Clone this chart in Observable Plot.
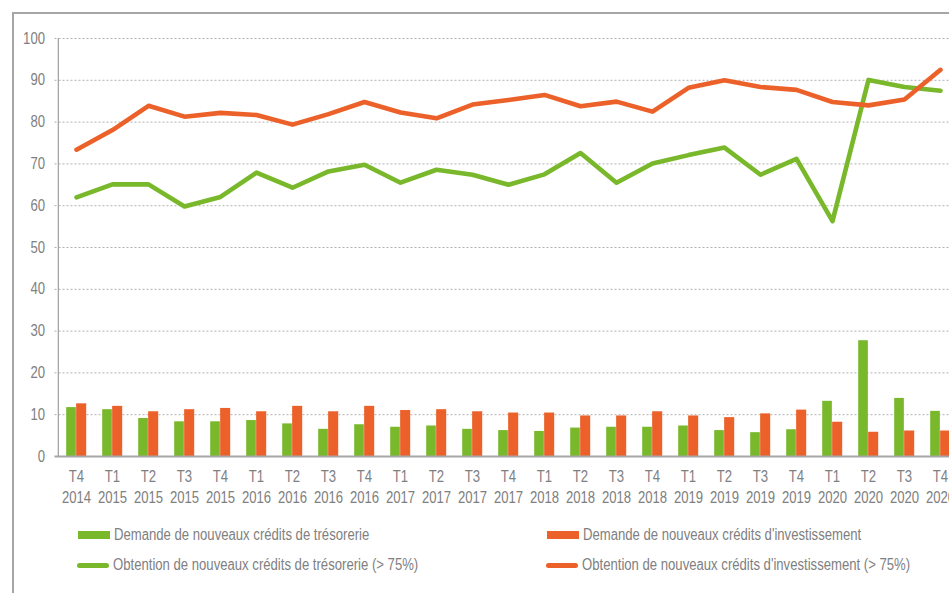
<!DOCTYPE html>
<html>
<head>
<meta charset="utf-8">
<script src="https://cdn.jsdelivr.net/npm/d3@7"></script>
<script src="https://cdn.jsdelivr.net/npm/@observablehq/plot@0.6"></script>
<style>
  html, body { margin: 0; padding: 0; background: #fff; overflow: hidden; width: 949px; height: 593px; }
  #frame { position: absolute; left: 12px; top: 12px; width: 1100px; height: 1000px;
           border-left: 2px solid #a6a6a6; border-top: 2px solid #a6a6a6; }
  #chart { position: absolute; left: 0; top: 0; width: 980px; }
  #chart svg { max-width: none !important; }
  #legend { position: absolute; left: 0; top: 0; width: 949px; height: 593px; pointer-events: none;
            font-family: 'Liberation Sans', Arial, sans-serif;
            font-size: 16px; color: #808080; }
  .item { position: absolute; display: flex; align-items: center; height: 20px; white-space: nowrap; }
  .sw { width: 32px; margin-right: 4px; flex: none; }
  .rect { height: 8px; }
  .ln { height: 5px; border-radius: 3px; }
  .lbl { display: inline-block; transform: scaleX(0.82); transform-origin: 0 50%; }
</style>
</head>
<body>
<div id="frame"></div>
<div id="chart"></div>
<div id="legend"></div>
<script>
const quarters = ["T4","T1","T2","T3","T4","T1","T2","T3","T4","T1","T2","T3","T4","T1","T2","T3","T4","T1","T2","T3","T4","T1","T2","T3","T4"];
const years = ["2014","2015","2015","2015","2015","2016","2016","2016","2016","2017","2017","2017","2017","2018","2018","2018","2018","2019","2019","2019","2019","2020","2020","2020","2020"];

// Demande de nouveaux crédits (barres)
const demandeTresorerie = [11.7,11.2,9.1,8.3,8.3,8.6,7.8,6.5,7.6,7.0,7.3,6.5,6.2,6.0,6.8,7.0,7.0,7.3,6.2,5.7,6.4,13.2,27.7,13.9,10.8];
const demandeInvestissement = [12.6,12.0,10.7,11.2,11.5,10.7,12.0,10.7,12.0,11.0,11.2,10.7,10.4,10.4,9.7,9.7,10.7,9.7,9.3,10.2,11.1,8.2,5.8,6.1,6.1];

// Obtention de nouveaux crédits (> 75%) (courbes)
const obtentionTresorerie = [62.0,65.1,65.1,59.8,62.1,67.9,64.3,68.2,69.8,65.5,68.6,67.4,65.0,67.5,72.6,65.5,70.1,72.1,73.9,67.4,71.2,56.3,90.1,88.4,87.5];
const obtentionInvestissement = [73.4,78.1,83.9,81.3,82.2,81.7,79.4,81.9,84.8,82.3,80.9,84.2,85.3,86.5,83.8,84.9,82.5,88.2,90.0,88.4,87.7,84.8,84.0,85.4,92.5];

const yTicks = [0,10,20,30,40,50,60,70,80,90,100];
const seriesNames = [
  "Demande de nouveaux crédits de trésorerie",
  "Demande de nouveaux crédits d'investissement",
  "Obtention de nouveaux crédits de trésorerie (> 75%)",
  "Obtention de nouveaux crédits d'investissement (> 75%)"
];

const GREEN = "#78b82a";
const ORANGE = "#ec6129";
const FONT = "'Liberation Sans', Arial, sans-serif";

const cats = quarters.map((q, i) => q + " " + years[i]);
const rows = cats.map((c, i) => ({
  cat: c, q: quarters[i], yr: years[i],
  dT: demandeTresorerie[i], dI: demandeInvestissement[i],
  oT: obtentionTresorerie[i], oI: obtentionInvestissement[i]
}));

const W = 980, H = 515;
const chart = Plot.plot({
  width: W, height: H,
  marginLeft: 54.5, marginRight: 18, marginTop: 38, marginBottom: 59,
  style: { fontFamily: FONT, fontSize: "16px", color: "#808080", background: "transparent", overflow: "visible", maxWidth: "none" },
  x: { domain: cats, padding: 0, axis: null },
  y: { domain: [0, 100], ticks: yTicks, tickSize: 0, tickPadding: 10, label: null, line: false },
  marks: [
    Plot.ruleY(yTicks.filter(d => d > 0), { stroke: "#b0b0b0", strokeDasharray: "2,2", strokeWidth: 1 }),
    Plot.barY(rows, { x: "cat", y: "dT", fill: GREEN, insetLeft: 8.2, insetRight: 18.15 }),
    Plot.barY(rows, { x: "cat", y: "dI", fill: ORANGE, insetLeft: 18.15, insetRight: 7.8 }),
    Plot.ruleX([0], { x: () => cats[0], y1: 0, y2: 100, dx: -18.15, stroke: "#a6a6a6", strokeWidth: 1.3 }),
    Plot.ruleY([0], { stroke: "#a6a6a6", strokeWidth: 2 }),
    Plot.line(rows, { x: "cat", y: "oT", stroke: GREEN, strokeWidth: 4.6, strokeLinejoin: "round", strokeLinecap: "round" }),
    Plot.line(rows, { x: "cat", y: "oI", stroke: ORANGE, strokeWidth: 4.6, strokeLinejoin: "round", strokeLinecap: "round" }),
    Plot.text(rows, { x: "cat", y: () => 0, text: "q", dy: 20.5, fill: "#808080", lineAnchor: "middle" }),
    Plot.text(rows, { x: "cat", y: () => 0, text: "yr", dy: 41, fill: "#808080", lineAnchor: "middle" })
  ]
});
chart.style.maxWidth = "none";
document.getElementById("chart").appendChild(chart);

// Condense SVG texts to mimic a narrow typeface
chart.querySelectorAll("text").forEach(el => {
  const L = el.getComputedTextLength();
  if (L > 0) {
    el.setAttribute("textLength", (L * 0.82).toFixed(2));
    el.setAttribute("lengthAdjust", "spacingAndGlyphs");
  }
});

// Legend
const legend = document.getElementById("legend");
const items = [
  { name: seriesNames[0], color: GREEN, kind: "rect", left: 77.5, top: 525 },
  { name: seriesNames[1], color: ORANGE, kind: "rect", left: 547, top: 525 },
  { name: seriesNames[2], color: GREEN, kind: "ln", left: 77, top: 555 },
  { name: seriesNames[3], color: ORANGE, kind: "ln", left: 546, top: 555 }
];
for (const it of items) {
  const d = document.createElement("div");
  d.className = "item";
  d.style.left = it.left + "px";
  d.style.top = it.top + "px";
  const s = document.createElement("span");
  s.className = "sw " + it.kind;
  s.style.background = it.color;
  const t = document.createElement("span");
  t.className = "lbl";
  t.textContent = it.name;
  d.appendChild(s); d.appendChild(t);
  legend.appendChild(d);
}
</script>
</body>
</html>
